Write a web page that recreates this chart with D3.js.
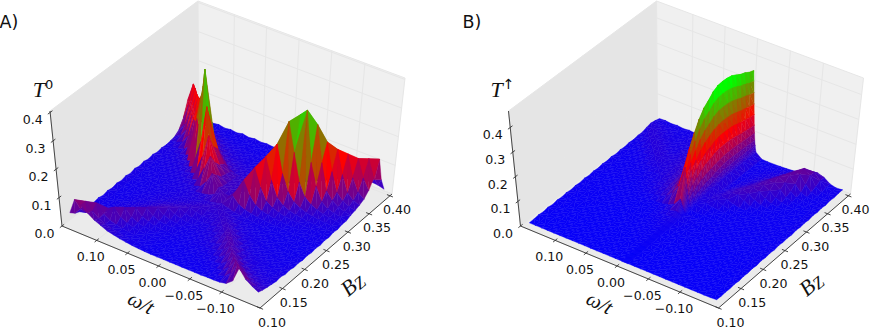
<!DOCTYPE html>
<html>
<head>
<meta charset="utf-8">
<script src="https://cdn.jsdelivr.net/npm/d3@7"></script>
<style>
body { margin: 0; background: white; }
text { font-family: "DejaVu Sans", sans-serif; fill: #111; }
.math { font-family: "Liberation Serif", serif; font-style: italic; }
</style>
</head>
<body>
<svg id="chart" width="871" height="327"></svg>
<script>
//Axis ticks
var omegaTicks = [0.10, 0.05, 0.00, -0.05, -0.10];
var bzTicks = [0.10, 0.15, 0.20, 0.25, 0.30, 0.35, 0.40];
var t0Ticks = [0.0, 0.1, 0.2, 0.3, 0.4];
var tUpTicks = [0.0, 0.1, 0.2, 0.3, 0.4];

//Bz rows, same for both panels
var bzValues = [0.11,0.12,0.13,0.14,0.15,0.16,0.17,0.18,0.19,0.20,0.21,0.22,0.23,0.24,0.25,0.26,0.27,0.28,0.29,0.30,0.31,0.32,0.33,0.34,0.35,0.36,0.37,0.38,0.39,0.40];

//Omega columns, panel A
var omegaA = [0.15,0.14,0.13,0.12,0.11,0.10,0.09,0.08,0.07,0.06,0.05,0.04,0.03,0.02,0.01,0,-0.01,-0.02,-0.03,-0.04,-0.05,-0.06,-0.07,-0.08,-0.09,-0.10,-0.11,-0.12,-0.13,-0.14,-0.15];

//Omega columns, panel B (finer at the cliff)
var omegaB = [0.15,0.14,0.13,0.12,0.11,0.10,0.09,0.08,0.07,0.06,0.05,0.04,0.03,0.02,0.01,0,-0.001,-0.002,-0.003,-0.004,-0.005,-0.006,-0.007,-0.008,-0.009,-0.01,-0.02,-0.03,-0.04,-0.05,-0.06,-0.07,-0.08,-0.09,-0.10,-0.11,-0.12,-0.13,-0.14,-0.15];

//T^0, in thousandths, one row per Bz
var t0Rows = [
[40,95,85,65,50,40,30,25,20,17,14,12,11,10,10,10,10,10,10,10,10,10,11,11,12,17,35,90,60,45,33],
[25,50,85,60,42,32,25,20,17,15,13,12,11,10,10,10,10,10,10,10,10,11,12,14,20,40,82,55,42,33,27],
[18,24,40,75,45,32,25,20,17,15,13,12,11,10,10,10,10,10,10,11,11,12,14,18,38,72,48,36,28,24,23],
[13,16,20,30,52,65,38,27,21,17,15,13,12,11,10,10,10,11,11,12,13,15,18,36,65,42,30,25,22,20,20],
[17,14,16,20,28,46,60,35,24,19,16,14,13,12,11,11,11,12,13,14,16,20,35,60,38,28,23,20,18,18,16],
[13,13,14,16,20,28,44,55,33,23,18,15,14,13,12,12,13,14,15,17,21,34,55,36,26,22,19,17,16,15,19],
[16,12,13,15,18,22,30,42,50,31,22,18,16,14,13,13,14,16,18,22,32,52,42,28,22,19,17,15,14,14,13],
[12,12,13,14,16,19,24,30,40,46,30,22,18,16,15,15,16,18,22,30,46,46,28,21,18,16,15,14,13,13,16],
[16,12,12,13,15,17,20,24,30,38,42,29,22,18,17,17,18,20,25,36,44,28,21,18,16,15,14,13,12,12,11],
[13,12,12,13,14,16,18,21,25,30,34,38,28,22,19,19,20,25,34,40,27,21,18,16,15,14,13,12,12,12,14],
[17,13,12,13,14,15,16,19,21,24,27,31,35,28,24,23,25,31,36,26,21,18,16,15,14,13,12,12,12,11,10],
[14,13,13,13,14,15,16,17,19,21,23,26,29,33,28,27,29,33,26,21,18,16,15,14,13,12,12,12,11,11,13],
[18,14,13,13,14,14,15,17,18,20,21,23,25,28,32,31,32,26,22,19,17,15,14,13,13,12,12,11,11,11,10],
[14,13,14,14,14,15,16,17,18,19,21,22,24,26,30,36,30,24,21,18,16,15,14,13,13,12,12,12,11,11,13],
[19,14,14,14,15,15,16,17,18,20,22,25,29,38,55,40,60,38,28,23,20,18,16,15,14,13,13,12,12,12,10],
[15,14,14,15,15,16,17,18,20,22,28,52,90,50,36,36,68,110,66,40,29,24,20,18,16,15,14,13,13,12,14],
[19,14,15,15,16,17,18,20,24,30,80,130,72,42,38,36,50,95,150,90,50,36,28,23,20,18,16,15,14,13,11],
[15,15,15,16,17,18,20,25,32,100,180,95,55,40,36,34,38,60,112,185,110,58,40,30,25,21,19,17,16,15,16],
[19,15,16,17,18,20,26,36,130,260,130,75,50,38,34,32,35,50,80,135,225,130,75,48,36,28,24,21,19,17,13],
[15,16,17,18,20,26,36,170,370,170,110,65,45,35,32,30,32,42,62,100,160,300,200,105,62,44,34,28,24,21,18],
[18,16,18,20,26,36,170,290,165,85,52,38,30,27,26,26,28,34,45,66,100,190,320,345,170,95,50,34,28,23,17],
[16,18,20,26,45,140,240,140,75,48,36,29,26,24,23,23,24,27,32,40,54,75,100,230,290,165,75,50,36,29,24],
[18,22,30,60,125,205,120,68,44,33,27,24,22,21,20,20,21,23,26,30,38,50,72,105,185,225,130,65,44,34,28],
[22,34,62,120,190,115,65,42,30,25,22,20,19,18,18,18,19,20,22,25,30,38,50,70,100,165,195,115,60,42,34],
[34,60,115,180,110,60,38,28,23,20,18,17,16,16,16,16,16,17,19,21,24,29,37,48,65,95,145,175,100,58,42],
[62,115,180,105,55,34,25,21,18,17,16,15,15,15,14,14,15,15,16,18,20,24,29,36,46,62,88,135,155,95,60],
[110,175,100,50,30,22,18,16,15,15,14,14,14,13,13,13,14,14,15,16,17,20,24,29,36,46,60,85,130,150,90],
[100,60,34,22,17,15,14,13,13,13,13,12,12,12,12,12,12,13,14,15,16,17,20,24,28,34,42,55,75,110,145],
[24,20,16,14,13,13,12,12,12,12,12,11,11,11,11,11,12,12,13,14,14,15,17,19,21,24,28,33,40,52,60],
[15,17,13,16,12,15,12,16,12,15,12,14,12,15,12,14,11,13,12,14,12,14,14,16,15,17,18,20,22,20,14]
];

//T^up, in thousandths, one row per Bz
var tUpRows = [
[5,5,5,5,5,5,5,5,5,5,5,5,5,5,5,5,5,5,5,5,5,5,5,5,5,5,5,5,5,5,5,5,5,5,5,5,5,5,5,7],
[6,5,5,5,5,5,5,5,5,5,5,5,5,5,5,5,5,5,5,5,5,5,5,5,5,5,5,5,5,5,5,5,5,5,5,5,5,5,5,5],
[8,6,5,5,5,5,5,5,5,5,5,5,5,5,5,5,5,5,5,5,5,5,5,5,5,5,5,5,5,5,5,5,5,5,5,5,5,5,5,7],
[6,6,6,5,5,5,5,5,5,5,5,5,5,5,6,6,6,6,6,6,6,6,6,6,6,6,5,5,5,5,5,5,5,5,5,5,5,5,6,5],
[9,6,6,6,5,5,5,5,5,5,5,5,6,6,6,6,6,6,6,6,6,6,6,6,6,6,6,5,5,5,5,5,5,5,5,5,5,6,6,8],
[6,6,6,6,6,5,5,5,5,5,5,6,6,6,6,7,7,7,7,7,7,7,7,7,7,7,6,6,5,5,5,5,5,5,5,5,6,6,6,5],
[9,7,6,6,6,6,6,6,6,6,6,6,6,6,7,8,8,8,8,8,8,8,8,8,8,7,7,6,6,6,6,6,6,6,6,6,6,6,6,8],
[7,7,7,6,6,6,6,6,6,6,6,6,6,7,8,9,9,9,9,9,9,9,9,9,9,8,7,6,6,6,6,6,6,6,6,6,6,6,7,6],
[10,7,7,7,6,6,6,6,6,6,6,7,7,8,9,10,10,10,10,10,10,10,10,10,10,9,8,7,6,6,6,6,6,6,6,6,6,7,7,9],
[7,8,7,7,7,6,6,6,6,6,7,7,8,9,10,12,12,12,12,11,11,11,11,11,11,10,8,7,7,6,6,6,6,6,6,6,7,7,7,6],
[10,8,8,7,7,7,7,7,7,7,7,8,8,10,12,14,14,14,14,13,13,13,13,13,13,12,10,9,8,7,7,7,7,7,7,7,7,7,8,10],
[8,9,8,8,7,7,7,7,7,7,8,8,9,12,15,18,18,18,17,17,16,16,16,15,15,14,11,9,8,8,7,7,7,7,7,7,7,8,8,7],
[11,9,8,8,8,8,8,8,8,8,8,9,11,14,20,26,25,24,23,22,21,20,19,18,17,16,12,10,9,8,8,8,8,8,8,8,8,8,8,10],
[8,8,8,8,8,8,8,8,9,9,10,11,13,18,30,60,53,45,37,30,23,16,12,10,9,9,8,8,8,8,8,8,8,8,8,8,8,8,8,7],
[11,8,8,8,8,8,8,9,10,11,14,19,30,50,88,175,154,131,108,88,66,47,32,21,14,12,10,9,8,8,8,8,8,8,8,8,8,8,8,11],
[9,9,9,9,9,9,9,10,12,15,20,27,40,67,120,240,211,180,149,120,91,65,43,29,19,20,15,11,10,9,9,9,9,9,9,9,9,9,9,8],
[12,9,9,9,9,10,10,12,14,18,24,32,48,80,142,285,251,214,177,142,108,77,51,34,22,22,20,14,11,10,9,9,9,9,9,9,9,9,9,11],
[10,10,10,10,10,11,12,13,16,21,27,36,55,91,162,325,286,244,201,162,123,88,58,39,25,24,25,28,18,12,10,9,9,9,9,9,9,9,9,8],
[13,10,10,10,11,12,13,16,20,24,30,39,60,99,177,355,312,266,220,177,135,96,64,43,27,28,24,32,26,16,11,10,9,9,9,9,9,9,9,12],
[10,10,10,11,12,14,18,22,22,26,32,41,63,104,186,372,327,279,231,186,141,100,67,45,30,30,22,30,38,40,26,14,11,10,9,9,9,9,9,9],
[13,10,11,12,14,18,24,24,24,28,33,42,65,108,196,392,345,294,243,196,149,106,74,52,38,32,18,26,36,46,40,24,14,11,10,9,9,9,9,12],
[11,11,12,14,18,25,26,24,24,28,34,43,67,110,201,402,354,302,249,201,153,109,78,56,42,34,16,20,30,42,50,44,26,15,11,10,9,9,9,9],
[14,12,14,18,25,28,24,22,24,28,34,44,68,112,202,404,356,303,250,202,154,112,82,60,44,34,15,18,24,36,48,55,42,24,14,11,10,9,9,13],
[12,14,18,25,28,24,20,20,24,28,34,44,69,113,201,402,354,302,249,201,153,112,82,60,44,34,14,15,20,30,44,60,60,42,22,13,10,10,10,10],
[15,18,24,28,24,20,18,20,24,28,34,45,69,113,199,397,349,298,246,199,151,112,82,60,44,34,14,14,18,24,36,52,68,56,30,16,12,11,10,13],
[14,24,28,24,20,18,18,20,24,28,35,45,69,113,193,386,340,290,239,193,147,110,80,60,44,34,14,13,15,20,28,44,62,70,46,22,13,11,11,10],
[20,28,24,20,18,17,17,20,24,28,34,44,68,112,187,374,329,281,232,187,142,108,80,58,44,34,13,12,14,18,22,34,50,72,70,40,18,12,11,14],
[24,24,20,18,16,16,17,19,22,28,34,44,67,110,183,366,322,275,227,183,139,106,78,58,42,33,13,12,13,15,18,26,40,60,80,62,26,14,12,11],
[20,18,16,15,15,15,16,18,22,27,33,42,65,108,177,354,312,266,219,177,135,104,76,56,42,32,12,11,12,13,15,20,28,42,58,60,36,18,12,14],
[15,16,13,15,12,14,12,14,20,25,31,40,63,104,174,347,305,260,215,174,132,102,74,55,40,30,11,10,10,11,12,14,18,26,36,42,34,18,12,14]
];

//Axes box corners in pixels for panel A (floor and top of each corner)
var floorQuad = [[62,226],[260,308],[392,194],[199,119]];
var topQuad = [[50,111],[263,195],[405,78],[198,1]];

//Maps the unit square onto a quad, keeps perspective
function homography(q){
    var dx1 = q[1][0]-q[2][0], dx2 = q[3][0]-q[2][0], sx = q[0][0]-q[1][0]+q[2][0]-q[3][0];
    var dy1 = q[1][1]-q[2][1], dy2 = q[3][1]-q[2][1], sy = q[0][1]-q[1][1]+q[2][1]-q[3][1];
    var den = dx1*dy2-dx2*dy1;
    var g = (sx*dy2-dx2*sy)/den, h = (dx1*sy-sx*dy1)/den;
    var a = q[1][0]-q[0][0]+g*q[1][0], b = q[3][0]-q[0][0]+h*q[3][0];
    var d = q[1][1]-q[0][1]+g*q[1][1], e = q[3][1]-q[0][1]+h*q[3][1];
    return function(u,v){
        var w = g*u+h*v+1;
        return [(a*u+b*v+q[0][0])/w, (d*u+e*v+q[0][1])/w];
    };
}
var floorAt = homography(floorQuad);
var topAt = homography(topQuad);

//Scales for the model axes
var uScale = d3.scaleLinear().domain([0.157,-0.16]).range([0,1]);
var vScale = d3.scaleLinear().domain([0.10,0.405]).range([0,1]);

var line = d3.line();
var svg = d3.select("#chart");

function drawPanel(cfg){
    var g = svg.append("g").attr("transform","translate("+cfg.dx+",0)");
    var zScale = d3.scaleLinear().domain([0,cfg.zTop]).range([0,1]);
    var colorScale = d3.scaleLinear()
                       .domain([0,cfg.zMax/2,cfg.zMax])
                       .range(["#0000ff","#ff0000","#00ff00"])
                       .clamp(true);

    function corner(u,v,z){
        var f = floorAt(u,v), t = topAt(u,v), k = zScale(z);
        return [f[0]+(t[0]-f[0])*k, f[1]+(t[1]-f[1])*k];
    }

    //Panes
    var panes = [
        {fill:"#e5e5e5", pts:[[0,0,0],[0,0,cfg.zTop],[0,1,cfg.zTop],[0,1,0]]},
        {fill:"#f0f0f0", pts:[[0,1,0],[0,1,cfg.zTop],[1,1,cfg.zTop],[1,1,0]]},
        {fill:"#ebebeb", pts:[[0,0,0],[1,0,0],[1,1,0],[0,1,0]]}
    ];
    g.selectAll(".pane").data(panes).enter().append("path")
     .attr("class","pane")
     .attr("d",function(d){ return line(d.pts.map(function(p){ return corner(p[0],p[1],p[2]); }))+"Z"; })
     .style("fill",function(d){ return d.fill; })
     .style("stroke","#e6e6e6")
     .style("stroke-width",1);

    //Grid on the panes
    var grid = [];
    omegaTicks.forEach(function(w){
        var u = uScale(w);
        grid.push([[u,0,0],[u,1,0]]);
        grid.push([[u,1,0],[u,1,cfg.zTop]]);
    });
    bzTicks.forEach(function(b){
        var v = vScale(b);
        grid.push([[0,v,0],[1,v,0]]);
        grid.push([[0,v,0],[0,v,cfg.zTop]]);
    });
    cfg.zTicks.forEach(function(z){
        grid.push([[0,0,z],[0,1,z]]);
        grid.push([[0,1,z],[1,1,z]]);
    });
    g.selectAll(".grid").data(grid).enter().append("path")
     .attr("class","grid")
     .attr("d",function(d){ return line(d.map(function(p){ return corner(p[0],p[1],p[2]); })); })
     .style("stroke","#e6e6e6")
     .style("stroke-width",1)
     .style("fill","none");

    //Surface, back to front. Each grid cell splits along its higher diagonal so ridges stay joined up
    var cells = [];
    function tri(a,b,c){
        var zs = [a.z,b.z,c.z];
        cells.push({
            pts:[a.p,b.p,c.p],
            level:(0.7*d3.mean(zs)+0.3*d3.max(zs))/1000
        });
    }
    for (var r = cfg.rows.length-2; r >= 0; r--) {
        for (var c = 0; c < cfg.omega.length-1; c++) {
            var n = [[c,r],[c+1,r],[c+1,r+1],[c,r+1]].map(function(k){
                var z = cfg.rows[k[1]][k[0]];
                return {z:z, p:corner(uScale(cfg.omega[k[0]]),vScale(bzValues[k[1]]),z/1000)};
            });
            if (n[0].z+n[2].z >= n[1].z+n[3].z) {
                tri(n[0],n[2],n[3]);
                tri(n[0],n[1],n[2]);
            } else {
                tri(n[0],n[1],n[3]);
                tri(n[1],n[2],n[3]);
            }
        }
    }
    g.selectAll(".cell").data(cells).enter().append("path")
     .attr("class","cell")
     .attr("d",function(d){ return line(d.pts)+"Z"; })
     .style("fill",function(d){ return colorScale(d.level); })
     .style("stroke",function(d){ return colorScale(d.level); })
     .style("stroke-width",0.4);

    //Axis lines
    var axes = [[[0,0,0],[1,0,0]],[[1,0,0],[1,1,0]],[[0,0,0],[0,0,cfg.zTop]]];
    g.selectAll(".axis").data(axes).enter().append("path")
     .attr("class","axis")
     .attr("d",function(d){ return line(d.map(function(p){ return corner(p[0],p[1],p[2]); })); })
     .style("stroke","#333")
     .style("stroke-width",0.9)
     .style("fill","none");

    //Ticks and labels
    var fmt2 = d3.format(".2f"), fmt1 = d3.format(".1f");
    var ticks = [];
    omegaTicks.forEach(function(w){
        var u = uScale(w);
        ticks.push({a:[u,-0.015,0],b:[u,0.015,0],p:corner(u,0,0),dx:-6,dy:20.6,t:fmt2(w)});
    });
    bzTicks.forEach(function(b){
        var v = vScale(b);
        ticks.push({a:[0.985,v,0],b:[1.015,v,0],p:corner(1,v,0),dx:12-5*v,dy:18.6,t:fmt2(b)});
    });
    cfg.zTicks.forEach(function(z){
        ticks.push({a:[0,-0.015,z],b:[0,0.015,z],p:corner(0,0,z),dx:-17.5,dy:12,t:fmt1(z)});
    });
    g.selectAll(".tick").data(ticks).enter().append("path")
     .attr("class","tick")
     .attr("d",function(d){ return line([corner(d.a[0],d.a[1],d.a[2]),corner(d.b[0],d.b[1],d.b[2])]); })
     .style("stroke","#333")
     .style("stroke-width",0.9);
    g.selectAll(".ticklabel").data(ticks).enter().append("text")
     .attr("class","ticklabel")
     .attr("x",function(d){ return d.p[0]+d.dx; })
     .attr("y",function(d){ return d.p[1]+d.dy; })
     .attr("text-anchor","middle")
     .style("font-size","12.6px")
     .text(function(d){ return d.t; });

    //Axis titles
    g.append("text").attr("class","math")
     .attr("transform","translate(138,309) rotate(27)")
     .attr("text-anchor","middle")
     .style("font-size","21px")
     .text("\u03c9/t");
    var bz = g.append("text").attr("class","math")
     .attr("transform","translate(357,290) rotate(-40)")
     .attr("text-anchor","middle")
     .style("font-size","22px");
    bz.append("tspan").text("B");
    bz.append("tspan").attr("dy",2).style("font-size","17px").text("Z");
    var zt = g.append("text").attr("class","math")
     .attr("x",cfg.zx).attr("y",97)
     .attr("text-anchor","middle")
     .style("font-size","22px");
    zt.append("tspan").text("T");
    zt.append("tspan").attr("dy",-8)
      .style("font-size",cfg.zSupSize)
      .style("font-style","normal")
      .style("font-family","DejaVu Sans")
      .text(cfg.zSup);

    //Panel letter
    svg.append("text")
       .attr("x",cfg.letterX).attr("y",28)
       .style("font-size","17.5px")
       .text(cfg.letter);
}

drawPanel({dx:0, rows:t0Rows, omega:omegaA, zTop:0.405, zMax:0.34, zTicks:t0Ticks, zx:43, zSup:"0", zSupSize:"13px", letter:"A)", letterX:-0.5});
drawPanel({dx:458.5, rows:tUpRows, omega:omegaB, zTop:0.467, zMax:0.385, zTicks:tUpTicks, zx:44, zSup:"\u2191", zSupSize:"14px", letter:"B)", letterX:462.5});
</script>
</body>
</html>
